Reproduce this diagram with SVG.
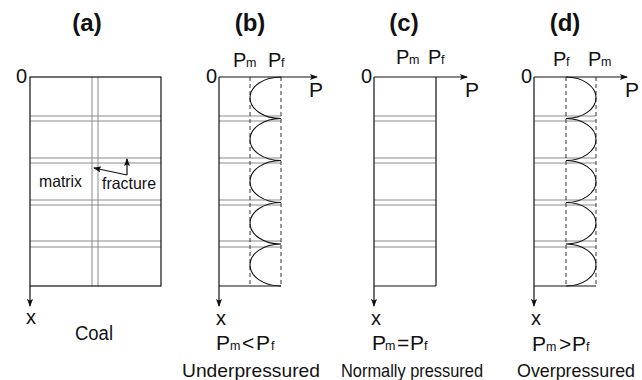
<svg xmlns="http://www.w3.org/2000/svg" width="642" height="380" viewBox="0 0 642 380">
<style>
text{font-family:"Liberation Sans",Arial,sans-serif;fill:#111}
.t{font-size:24px;font-weight:bold}
.lab{font-size:20px}
.big{font-size:21px}
.sub{font-size:12.5px}
.ax{stroke:#111;stroke-width:1.2;fill:none}
.frac{stroke:#8a8a8a;stroke-width:1;fill:none}
.dash{stroke:#333;stroke-width:1;stroke-dasharray:4 3;fill:none}
.crv{stroke:#111;stroke-width:1.1;fill:none}
</style>
<defs>
<marker id="ah" viewBox="0 0 8 6" refX="7" refY="3" markerWidth="8" markerHeight="6" orient="auto" markerUnits="userSpaceOnUse">
<path d="M0,0 L8,3 L0,6 L1.5,3 z" fill="#111"/>
</marker>
</defs>

<!-- Panel a -->
<g id="panel-a">
<text class="t" x="87" y="31" text-anchor="middle">(a)</text>
<text class="lab" x="27" y="83" text-anchor="end">0</text>
<g class="frac">
<line x1="92" y1="77" x2="92" y2="286"/><line x1="98" y1="77" x2="98" y2="286"/>
<line x1="30" y1="116" x2="161" y2="116"/><line x1="30" y1="121" x2="161" y2="121"/>
<line x1="30" y1="158" x2="161" y2="158"/><line x1="30" y1="163" x2="161" y2="163"/>
<line x1="30" y1="200" x2="161" y2="200"/><line x1="30" y1="205" x2="161" y2="205"/>
<line x1="30" y1="241" x2="161" y2="241"/><line x1="30" y1="247" x2="161" y2="247"/>
</g>
<rect x="30" y="77" width="131" height="209" class="ax"/>
<text x="39" y="187" style="font-size:16.5px" textLength="43" lengthAdjust="spacingAndGlyphs">matrix</text>
<text x="102" y="189" style="font-size:16.5px" textLength="54" lengthAdjust="spacingAndGlyphs">fracture</text>
<text class="lab" x="26" y="324">x</text>
<text x="75" y="340" style="font-size:20px" textLength="38" lengthAdjust="spacingAndGlyphs">Coal</text>
</g>

<!-- Panel b -->
<g id="panel-b">
<text class="t" x="250" y="31" text-anchor="middle">(b)</text>
<text class="lab" y="67"><tspan x="233">P</tspan><tspan class="sub" x="246">m</tspan><tspan x="268">P</tspan><tspan class="sub" x="281">f</tspan></text>
<text class="lab" x="217" y="83" text-anchor="end">0</text>
<text style="font-size:21px" x="309" y="97">P</text>
<g class="frac">
<line x1="219" y1="116" x2="281" y2="116"/><line x1="219" y1="121" x2="281" y2="121"/>
<line x1="219" y1="158" x2="281" y2="158"/><line x1="219" y1="163" x2="281" y2="163"/>
<line x1="219" y1="200" x2="281" y2="200"/><line x1="219" y1="205" x2="281" y2="205"/>
<line x1="219" y1="241" x2="281" y2="241"/><line x1="219" y1="247" x2="281" y2="247"/>
</g>
<line class="dash" x1="250" y1="77" x2="250" y2="286"/>
<line class="dash" x1="281" y1="77" x2="281" y2="286"/>
<line class="ax" x1="219" y1="286" x2="281" y2="286"/>
<path class="crv" d="M281,77 A31,20.75 0 0 0 281,118.5 A31,21 0 0 0 281,160.5 A31,21 0 0 0 281,202.5 A31,20.75 0 0 0 281,244 A31,21 0 0 0 281,286"/>
<text class="lab" x="216" y="325">x</text>
<text class="big" y="350"><tspan x="216">P</tspan><tspan class="sub" x="230">m</tspan><tspan x="242">&lt;</tspan><tspan x="256">P</tspan><tspan class="sub" x="271">f</tspan></text>
<text x="182" y="377" style="font-size:19px" textLength="138" lengthAdjust="spacingAndGlyphs">Underpressured</text>
</g>

<!-- Panel c -->
<g id="panel-c">
<text class="t" x="404" y="31" text-anchor="middle">(c)</text>
<text class="lab" y="64"><tspan x="396">P</tspan><tspan class="sub" x="409">m</tspan><tspan x="428">P</tspan><tspan class="sub" x="441">f</tspan></text>
<text class="lab" x="372" y="83" text-anchor="end">0</text>
<text style="font-size:21px" x="465" y="97">P</text>
<g class="frac">
<line x1="374" y1="116" x2="436" y2="116"/><line x1="374" y1="121" x2="436" y2="121"/>
<line x1="374" y1="158" x2="436" y2="158"/><line x1="374" y1="163" x2="436" y2="163"/>
<line x1="374" y1="200" x2="436" y2="200"/><line x1="374" y1="205" x2="436" y2="205"/>
<line x1="374" y1="241" x2="436" y2="241"/><line x1="374" y1="247" x2="436" y2="247"/>
</g>
<line class="ax" x1="436" y1="77" x2="436" y2="286"/>
<line class="ax" x1="374" y1="286" x2="436" y2="286"/>
<text class="lab" x="371" y="325">x</text>
<text class="big" y="350"><tspan x="372">P</tspan><tspan class="sub" x="385">m</tspan><tspan x="397">=</tspan><tspan x="410">P</tspan><tspan class="sub" x="424">f</tspan></text>
<text x="341" y="377" style="font-size:19px" textLength="142" lengthAdjust="spacingAndGlyphs">Normally pressured</text>
</g>

<!-- Panel d -->
<g id="panel-d">
<text class="t" x="565" y="31" text-anchor="middle">(d)</text>
<text class="lab" y="66"><tspan x="553">P</tspan><tspan class="sub" x="566">f</tspan><tspan x="588">P</tspan><tspan class="sub" x="601">m</tspan></text>
<text class="lab" x="532" y="83" text-anchor="end">0</text>
<text style="font-size:21px" x="625" y="97">P</text>
<g class="frac">
<line x1="534" y1="116" x2="596" y2="116"/><line x1="534" y1="121" x2="596" y2="121"/>
<line x1="534" y1="158" x2="596" y2="158"/><line x1="534" y1="163" x2="596" y2="163"/>
<line x1="534" y1="200" x2="596" y2="200"/><line x1="534" y1="205" x2="596" y2="205"/>
<line x1="534" y1="241" x2="596" y2="241"/><line x1="534" y1="247" x2="596" y2="247"/>
</g>
<line class="dash" x1="566" y1="77" x2="566" y2="286"/>
<line class="dash" x1="596" y1="77" x2="596" y2="286"/>
<line class="ax" x1="534" y1="286" x2="596" y2="286"/>
<path class="crv" d="M566,77 A30,20.75 0 0 1 566,118.5 A30,21 0 0 1 566,160.5 A30,21 0 0 1 566,202.5 A30,20.75 0 0 1 566,244 A30,21 0 0 1 566,286"/>
<text class="lab" x="531" y="325">x</text>
<text class="big" y="351"><tspan x="532">P</tspan><tspan class="sub" x="546">m</tspan><tspan x="559">&gt;</tspan><tspan x="572">P</tspan><tspan class="sub" x="586">f</tspan></text>
<text x="517" y="377" style="font-size:18.5px" textLength="118" lengthAdjust="spacingAndGlyphs">Overpressured</text>
</g>

<!-- Connectors: axes and pointer arrows -->
<g id="connectors" class="ax">
<line x1="30" y1="286" x2="30" y2="306" marker-end="url(#ah)"/>
<line x1="219" y1="77" x2="219" y2="306" marker-end="url(#ah)"/>
<line x1="219" y1="77" x2="317" y2="77" marker-end="url(#ah)"/>
<line x1="374" y1="77" x2="374" y2="306" marker-end="url(#ah)"/>
<line x1="374" y1="77" x2="467" y2="77" marker-end="url(#ah)"/>
<line x1="534" y1="77" x2="534" y2="306" marker-end="url(#ah)"/>
<line x1="534" y1="77" x2="627" y2="77" marker-end="url(#ah)"/>
<polyline points="127,175 94,168" marker-end="url(#ah)"/>
<polyline points="127,175 127,159" marker-end="url(#ah)"/>
</g>
</svg>
